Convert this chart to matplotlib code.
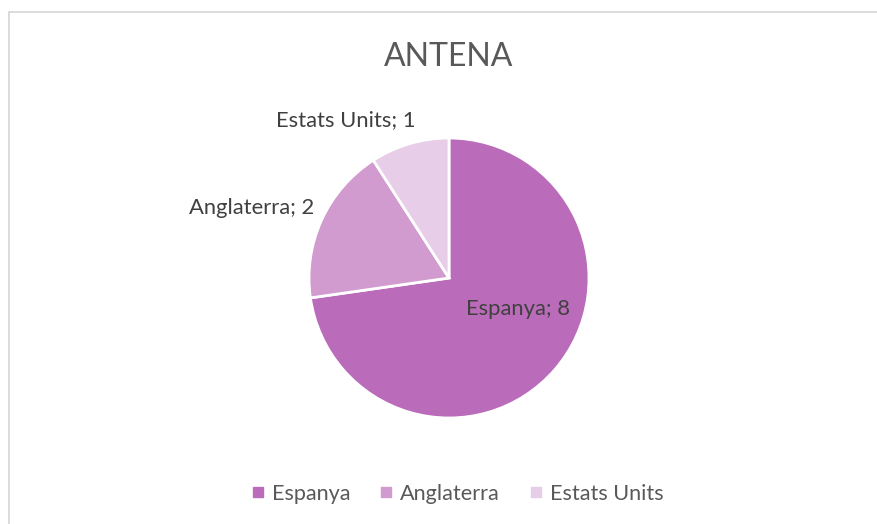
import matplotlib.pyplot as plt
from matplotlib.patches import Rectangle
from matplotlib.lines import Line2D

paisos = ["Espanya", "Anglaterra", "Estats Units"]
valors = [8, 2, 1]
colors = ["#BA6BBA", "#D29BD0", "#E7CDE7"]
titol = "ANTENA"

# posicions de les etiquetes (unitats del radi)
pos_etiquetes = [(0.49, -0.22), (-1.41, 0.50), (-0.74, 1.13)]

plt.rcParams['font.family'] = ['Lato', 'DejaVu Sans']
text_color = "#595959"

W, H = 877, 524
fig = plt.figure(figsize=(W / 100, H / 100), dpi=100)

# marc gris del gràfic
fig.patches.append(Rectangle((9 / W, -0.1), 1.0, (H - 12) / H + 0.1,
                             transform=fig.transFigure, fill=False,
                             edgecolor="#D9D9D9", linewidth=1.3))

cx, cy, r = 449, H - 278, 140
ax = fig.add_axes([(cx - r) / W, (cy - r) / H, 2 * r / W, 2 * r / H])
wedges, _ = ax.pie(valors, colors=colors, startangle=90, counterclock=False,
                   radius=1, wedgeprops=dict(edgecolor="white", linewidth=2))
ax.set_xlim(-1, 1)
ax.set_ylim(-1, 1)
ax.set_aspect("equal")
ax.axis("off")

for nom, v, (x, y) in zip(paisos, valors, pos_etiquetes):
    ax.text(x, y, f"{nom}; {v}", ha="center", va="center",
            fontsize=15.8, color="#404040")

fig.text(449 / W, 1 - 57 / H, titol, ha="center", va="center",
         fontsize=23, color=text_color)

handles = [Line2D([], [], marker="s", linestyle="none", markersize=7,
                  markerfacecolor=c, markeredgecolor=c) for c in colors]
fig.legend(handles, paisos, loc="center", bbox_to_anchor=(455 / W, 1 - 494 / H),
           ncol=3, frameon=False, fontsize=15.6, labelcolor=text_color,
           handletextpad=0.15, columnspacing=1.15, handlelength=1.0)

plt.savefig("out.png", dpi=100)
